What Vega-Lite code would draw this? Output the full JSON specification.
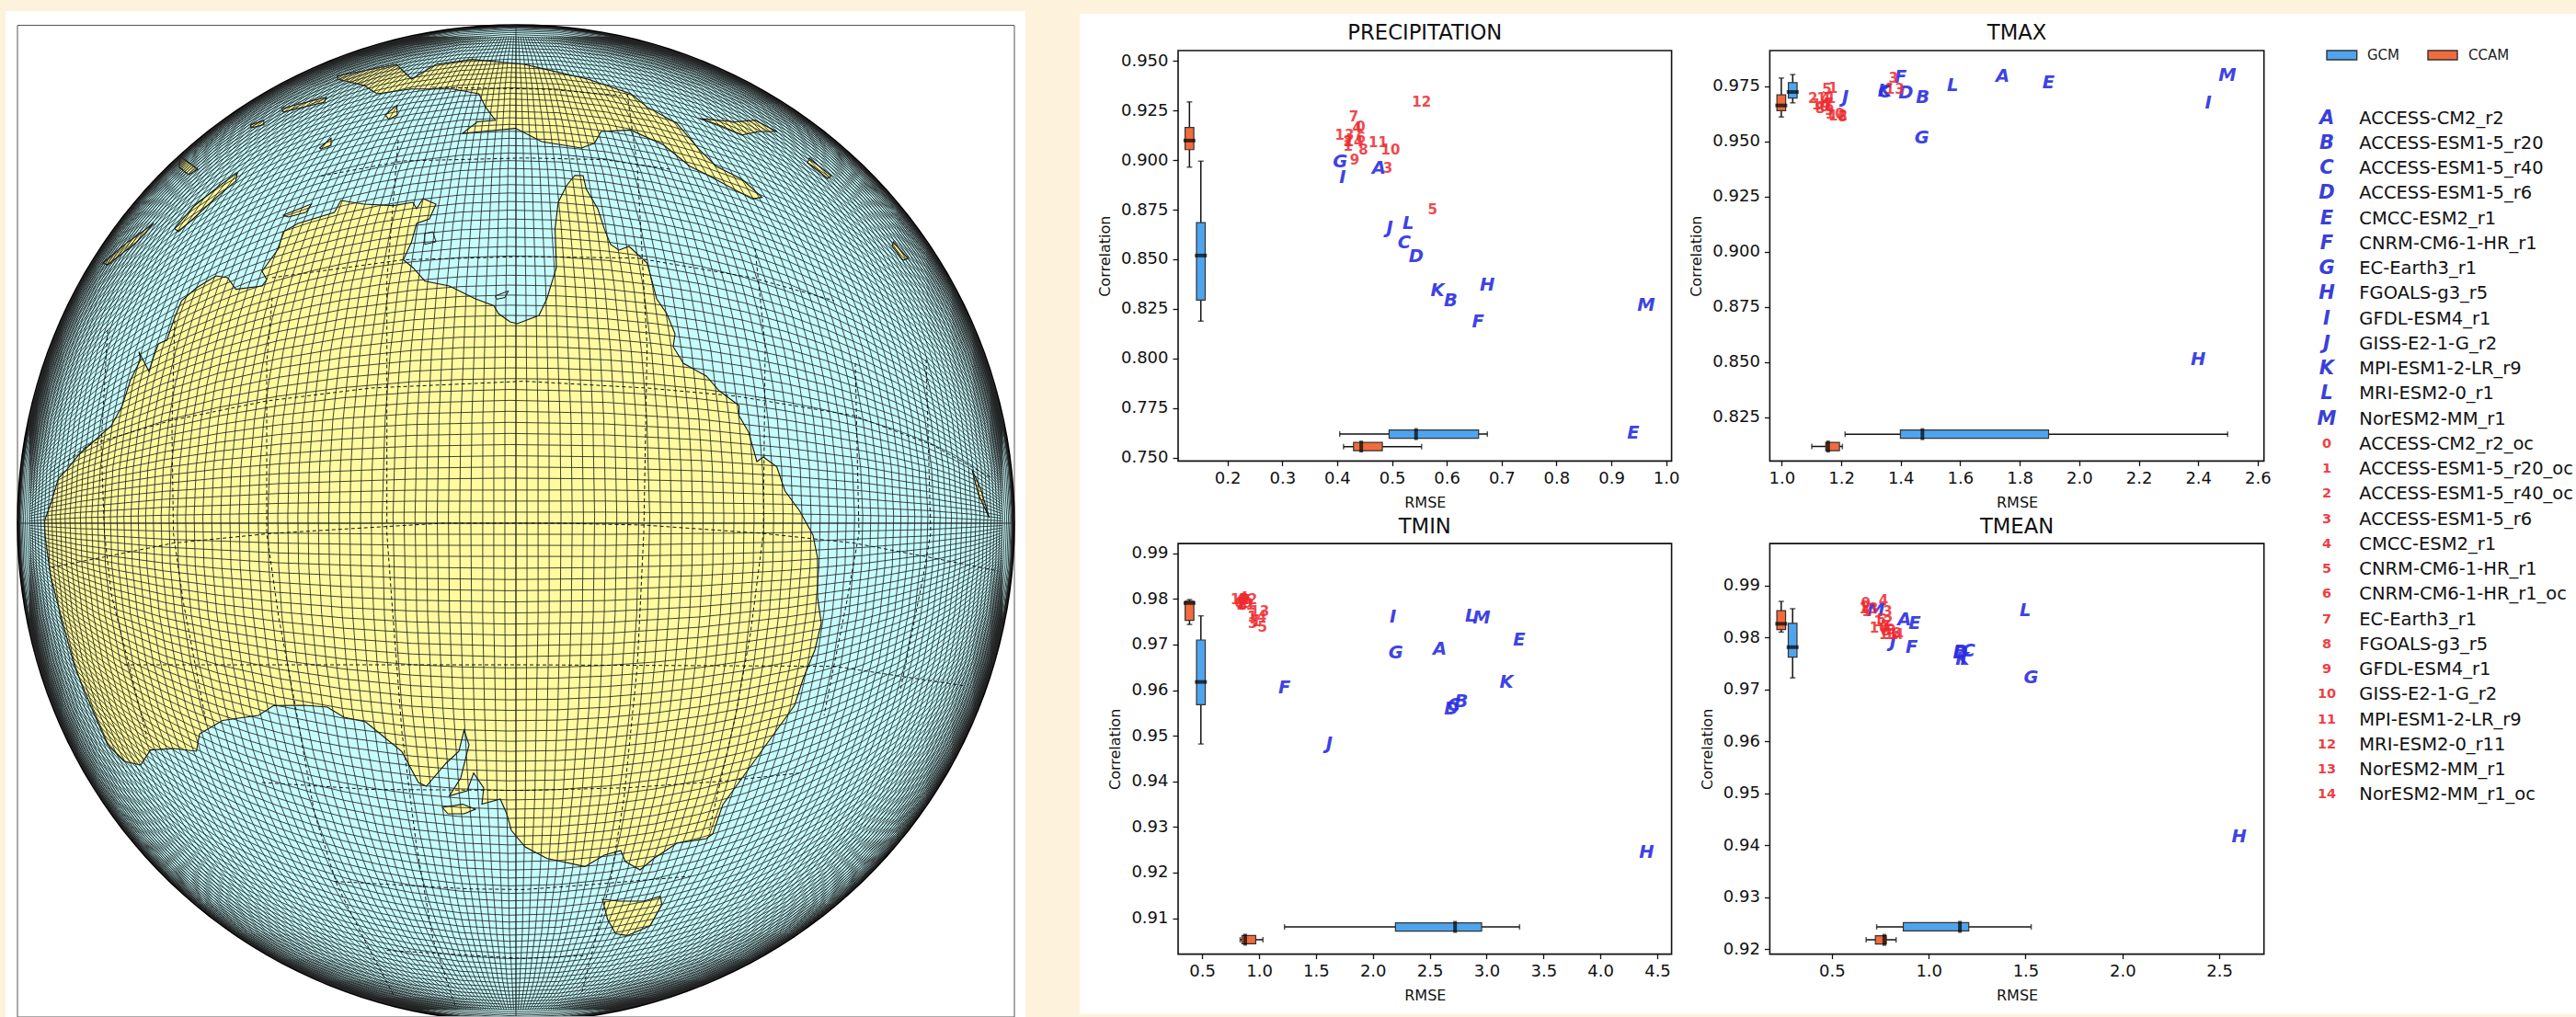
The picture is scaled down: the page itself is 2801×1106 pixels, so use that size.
{"$schema":"https://vega.github.io/schema/vega-lite/v6.json","width":2801,"height":1106,"padding":0,"autosize":{"type":"fit","contains":"padding"},"background":"#fdf2dc",
"config":{"font":"DejaVu Sans","view":{"stroke":null},"scale":{"continuousPadding":0},"axis":{"grid":false,"domain":false,"tickColor":"#111","tickSize":6,"tickWidth":1.3,"labelColor":"#111","titleColor":"#111","labelFontSize":18,"titleFontSize":16,"titleFontWeight":"normal","labelPadding":5,"titlePadding":9,"labelOverlap":false,"labelFlush":false}},
"datasets":{
"land":[
{"type":"Feature","geometry":{"type":"Polygon","coordinates":[[[48.6,566],[56,545],[63.6,520],[72.5,511],[87,493],[103,479],[121,463],[133,441],[142,413],[153,391],[151,382.5],[162,404],[167,388],[172.5,373.6],[181.4,370],[190,345],[197.5,327],[213.6,313],[235,300],[247.5,302],[256.4,314.6],[285,311],[290,304],[285,295],[303,270],[308,252],[324,243],[363.6,231],[370.7,218],[395.7,222],[428,223.6],[449,220],[453,227],[460,216],[474,222],[467,238],[453,243],[447.5,263],[438.6,282.5],[449,291],[462,305.7],[488.6,311],[517,325],[537,332.5],[542,341],[554.6,350],[562.5,352],[586,343],[594.6,325],[605,291],[603.6,248.6],[607,220],[616,202],[625,190.7],[634,191],[637.5,205.7],[650,227],[657,248.6],[664,266],[673,272],[684,268],[703.6,286],[709,305.7],[714,325],[725,341],[734,363],[732,377],[743,395],[768,409],[782,425],[803.6,441],[803.6,452],[814,470],[823,502],[830,497],[844.6,507.5],[853.6,534],[869.6,555.7],[884,582],[889,607],[889,649.6],[893,678],[886,707],[873,739],[864,767],[846,792],[825,821],[807,846],[786,875],[775,907],[768,912],[736,917],[711,933.5],[696,946],[680,937],[675,925],[657,930],[636,942.4],[594.6,933.5],[571,921],[556,903],[551,885],[544,869],[524,874.6],[526,857],[515,840.6],[508,860],[488.6,865.6],[501,846],[510,810],[504.6,794],[499,817],[485,830],[463.6,855],[455,851],[437,817.4],[417,801],[397.5,785],[374,780],[356,769],[331,767],[297.5,767.4],[281,778],[242,783.5],[217,798],[213.6,817],[188.6,814],[163.6,815.6],[153,832],[135,828],[117,810],[103,778],[81,724.6],[63.6,660],[54.6,624.6],[49,582],[48.6,566]]]}},
{"type":"Feature","geometry":{"type":"Polygon","coordinates":[[[481,878],[503,874.6],[517,880],[504.6,885],[487,885],[481,878]]]}},
{"type":"Feature","geometry":{"type":"Polygon","coordinates":[[[655,978],[673,980],[700,980],[718,974.6],[719.6,983.5],[707,1006.7],[682,1017.4],[669.6,1015.6],[660.7,1000],[655,978]]]}},
{"type":"Feature","geometry":{"type":"Polygon","coordinates":[[[367,82.5],[431,70],[447.5,86],[474,70],[513.6,64.6],[570,70],[585.7,73.6],[639,86],[686,102],[703.6,116.4],[735.7,134],[760.7,163],[778.6,180.7],[807,195],[828.6,214.6],[818,216.4],[771.4,191.4],[750,180.7],[721.4,157.5],[685.7,141.4],[653.6,143],[646.4,155.7],[632,161],[589,154],[560.7,139.6],[503,145],[519,132.5],[538.6,130.7],[528,116.4],[520.7,102],[492,96.8],[447.5,96.8],[410,102],[396,93],[367,86],[367,82.5]]]}},
{"type":"Feature","geometry":{"type":"Polygon","coordinates":[[[760.7,129],[800,132.5],[821.4,130.7],[844.6,143],[825,143],[807,146.8],[782,136],[760.7,129]]]}},
{"type":"Feature","geometry":{"type":"Polygon","coordinates":[[[308,234],[338.6,221.8],[333,230.7],[313.6,236],[308,234]]]}},
{"type":"Feature","geometry":{"type":"Polygon","coordinates":[[[306.4,118],[354.6,105.7],[353,111],[308,121.8],[306.4,118]]]}},
{"type":"Feature","geometry":{"type":"Polygon","coordinates":[[[272.5,136],[286.8,130.7],[287,135.5],[273,139],[272.5,136]]]}},
{"type":"Feature","geometry":{"type":"Polygon","coordinates":[[[347.5,161],[360,150.4],[360,158],[349,162],[347.5,161]]]}},
{"type":"Feature","geometry":{"type":"Polygon","coordinates":[[[190,248.6],[210,225],[238.6,202],[258,188],[256.4,196.8],[231.4,218],[210,238],[194,252],[190,248.6]]]}},
{"type":"Feature","geometry":{"type":"Polygon","coordinates":[[[111.8,286],[135,266.4],[167,243],[149,263],[117,288],[111.8,286]]]}},
{"type":"Feature","geometry":{"type":"Polygon","coordinates":[[[195.7,170],[215,184],[205,190],[195,182],[195.7,170]]]}},
{"type":"Feature","geometry":{"type":"Polygon","coordinates":[[[419,125],[431.5,114.6],[432,125],[423,130],[419,125]]]}},
{"type":"Feature","geometry":{"type":"Polygon","coordinates":[[[1057,511],[1066,530.7],[1075.7,563],[1064,538],[1057,511]]]}},
{"type":"Feature","geometry":{"type":"Polygon","coordinates":[[[880,172],[903.6,191.4],[900,194],[878,177],[880,172]]]}},
{"type":"Feature","geometry":{"type":"Polygon","coordinates":[[[971.4,263],[987.5,281],[982,283],[970,268],[971.4,263]]]}}
],
"lakes":[
{"type":"Feature","geometry":{"type":"Polygon","coordinates":[[[461.8,254],[470.7,252],[474,263],[461.8,265.7],[461.8,254]]]}},
{"type":"Feature","geometry":{"type":"Polygon","coordinates":[[[538.6,321.8],[552.9,316.4],[549,323.6],[540,325.4],[538.6,321.8]]]}}
],
"latlon":[{"type":"Feature","geometry":{"type":"MultiLineString","coordinates":[
[[433,152],[420.7,305],[420.7,580],[426,653],[437,796],[453,921],[470.7,1021],[495.7,1096]],
[[296,323.6],[290,395],[290,580],[303,671],[321,767],[342,885],[367,964],[403,1035],[428,1082]],
[[190,348.6],[187,466],[188.6,580],[199,653],[224,785]],
[[117,359],[110,484],[113.6,580],[121,646],[160,803]],
[[682,102],[693,181],[703.6,377],[700,580],[693,724.6],[678.6,867],[664,957],[632,1082]],
[[821,270],[832,377],[830,580],[816,689],[800,778],[771,903]],
[[930,395],[934,580],[921,653],[896,778]],
[[1007,391],[1012,580],[1003.6,628],[978.6,753]],
[[135,723],[367,723],[570,723],[907,724.6],[1050,746]],
[[56,513],[96,484],[185,457.5],[290,436],[403,422],[570,414.6],[703.6,422],[800,430.7],[928.6,452],[1014,484],[1078.6,520]],
[[56,617],[117,605],[188.6,590.6],[296,580],[481,569],[603.6,569],[700,571],[828.6,580],[928.6,590.6],[1014,606.7],[1086,621]],
[[285,851],[403,858.5],[570,859.6],[682,856.7],[786,849.6],[871,840.6]],
[[363.6,958.5],[510,966.7],[570,967.4],[643,962],[750,953]],
[[420.7,1033.5],[570,1042.4],[639,1039]],
[[295.7,302],[438.6,282.5],[570,279],[693,280.7],[818,302],[907,327]],
[[349,191.4],[438.6,175],[570,171.8],[657,173.6],[728.6,184]],
[[470,95],[596,97],[675,104]]
]}}],
"b1":[{"m":"GCM","d":"h","p":0.7618,"lo":0.4048,"q1":0.4948,"med":0.544,"q3":0.658,"hi":0.674},{"m":"CCAM","d":"h","p":0.7555,"lo":0.4117,"q1":0.43,"med":0.444,"q3":0.4825,"hi":0.5541},{"m":"CCAM","d":"v","p":0.1307,"lo":0.8965,"q1":0.9053,"med":0.9099,"q3":0.9165,"hi":0.9294},{"m":"GCM","d":"v","p":0.1515,"lo":0.8188,"q1":0.8294,"med":0.8519,"q3":0.8685,"hi":0.8995}],
"b2":[{"m":"GCM","d":"h","p":0.8174,"lo":1.213,"q1":1.399,"med":1.473,"q3":1.897,"hi":2.499},{"m":"CCAM","d":"h","p":0.8118,"lo":1.101,"q1":1.148,"med":1.156,"q3":1.194,"hi":1.204},{"m":"CCAM","d":"v","p":0.9986,"lo":0.961,"q1":0.9638,"med":0.9662,"q3":0.971,"hi":0.9786},{"m":"GCM","d":"v","p":1.037,"lo":0.9674,"q1":0.9696,"med":0.9723,"q3":0.9765,"hi":0.9802}],
"b3":[{"m":"GCM","d":"h","p":0.9081,"lo":1.2236,"q1":2.199,"med":2.723,"q3":2.956,"hi":3.29},{"m":"CCAM","d":"h","p":0.9053,"lo":0.834,"q1":0.85,"med":0.878,"q3":0.971,"hi":1.034},{"m":"CCAM","d":"v","p":0.3887,"lo":0.9744,"q1":0.9753,"med":0.9791,"q3":0.9795,"hi":0.97985},{"m":"GCM","d":"v","p":0.4889,"lo":0.9482,"q1":0.9568,"med":0.9618,"q3":0.971,"hi":0.9763}],
"b4":[{"m":"GCM","d":"h","p":0.9243,"lo":0.731,"q1":0.8686,"med":1.161,"q3":1.2067,"hi":1.529},{"m":"CCAM","d":"h","p":0.9218,"lo":0.6767,"q1":0.7246,"med":0.7705,"q3":0.781,"hi":0.8315},{"m":"CCAM","d":"v","p":0.2383,"lo":0.981,"q1":0.9815,"med":0.9826,"q3":0.9851,"hi":0.9869},{"m":"GCM","d":"v","p":0.2972,"lo":0.9722,"q1":0.9762,"med":0.9781,"q3":0.9827,"hi":0.9855}],
"g1":[{"c":"A","x":0.476,"y":0.896},{"c":"B","x":0.607,"y":0.8292},{"c":"C","x":0.5226,"y":0.8582},{"c":"D","x":0.544,"y":0.8516},{"c":"E","x":0.94,"y":0.7624},{"c":"F","x":0.657,"y":0.8184},{"c":"G","x":0.4055,"y":0.8991},{"c":"H","x":0.674,"y":0.8368},{"c":"I","x":0.41,"y":0.8913},{"c":"J","x":0.496,"y":0.8657},{"c":"K","x":0.583,"y":0.8342},{"c":"L","x":0.5295,"y":0.8681},{"c":"M","x":0.9636,"y":0.8266}],
"r1":[{"c":"0","x":0.443,"y":0.917},{"c":"1","x":0.42,"y":0.907},{"c":"2","x":0.42,"y":0.9095},{"c":"3","x":0.4925,"y":0.896},{"c":"4","x":0.4365,"y":0.9165},{"c":"5","x":0.574,"y":0.8751},{"c":"6","x":0.4435,"y":0.911},{"c":"7","x":0.4305,"y":0.9218},{"c":"8","x":0.448,"y":0.9051},{"c":"9","x":0.432,"y":0.9001},{"c":"10","x":0.4975,"y":0.9051},{"c":"11","x":0.4747,"y":0.9089},{"c":"12","x":0.554,"y":0.9291},{"c":"13","x":0.4135,"y":0.9128},{"c":"14","x":0.4305,"y":0.9095}],
"g2":[{"c":"A","x":1.7425,"y":0.9795},{"c":"B","x":1.474,"y":0.97},{"c":"C","x":1.3464,"y":0.9723},{"c":"D","x":1.417,"y":0.9717},{"c":"E","x":1.897,"y":0.9765},{"c":"F","x":1.4,"y":0.979},{"c":"G","x":1.471,"y":0.9515},{"c":"H","x":2.4,"y":0.8512},{"c":"I","x":2.434,"y":0.9674},{"c":"J","x":1.214,"y":0.9698},{"c":"K","x":1.346,"y":0.9726},{"c":"L","x":1.575,"y":0.9753},{"c":"M","x":2.498,"y":0.98}],
"r2":[{"c":"0","x":1.143,"y":0.9656},{"c":"1","x":1.173,"y":0.9741},{"c":"2","x":1.105,"y":0.9694},{"c":"3","x":1.375,"y":0.9787},{"c":"4","x":1.148,"y":0.9694},{"c":"5","x":1.152,"y":0.9735},{"c":"6","x":1.204,"y":0.9609},{"c":"7","x":1.158,"y":0.9671},{"c":"8","x":1.129,"y":0.9649},{"c":"9","x":1.16,"y":0.9641},{"c":"10","x":1.179,"y":0.9622},{"c":"11","x":1.15,"y":0.9694},{"c":"12","x":1.189,"y":0.9616},{"c":"13","x":1.38,"y":0.9735},{"c":"14","x":1.133,"y":0.9664}],
"g3":[{"c":"A","x":2.589,"y":0.96905},{"c":"B","x":2.778,"y":0.95754},{"c":"C","x":2.712,"y":0.9567},{"c":"D","x":2.693,"y":0.9558},{"c":"E","x":3.287,"y":0.9709},{"c":"F","x":1.2236,"y":0.9606},{"c":"G","x":2.203,"y":0.9682},{"c":"H","x":4.407,"y":0.9244},{"c":"I","x":2.177,"y":0.9761},{"c":"J","x":1.617,"y":0.9482},{"c":"K","x":3.175,"y":0.9618},{"c":"L","x":2.86,"y":0.9763},{"c":"M","x":2.956,"y":0.9758}],
"r3":[{"c":"0","x":0.8525,"y":0.9797},{"c":"1","x":0.975,"y":0.9751},{"c":"2","x":0.845,"y":0.9791},{"c":"3","x":0.945,"y":0.9746},{"c":"4","x":0.864,"y":0.9802},{"c":"5","x":1.03,"y":0.9738},{"c":"6","x":0.8265,"y":0.979},{"c":"7","x":0.882,"y":0.9796},{"c":"8","x":0.856,"y":0.9786},{"c":"9","x":0.9,"y":0.979},{"c":"10","x":0.834,"y":0.9798},{"c":"11","x":0.882,"y":0.9786},{"c":"12","x":0.9,"y":0.9798},{"c":"13","x":1.005,"y":0.9773},{"c":"14","x":0.982,"y":0.9761}],
"g4":[{"c":"A","x":0.875,"y":0.98335},{"c":"B","x":1.163,"y":0.9771},{"c":"C","x":1.2067,"y":0.9774},{"c":"D","x":1.163,"y":0.977},{"c":"E","x":0.9275,"y":0.9826},{"c":"F","x":0.912,"y":0.9781},{"c":"G","x":1.529,"y":0.9722},{"c":"H","x":2.6025,"y":0.9416},{"c":"I","x":1.18,"y":0.9758},{"c":"J","x":0.816,"y":0.9791},{"c":"K","x":1.174,"y":0.9758},{"c":"L","x":1.499,"y":0.9852},{"c":"M","x":0.727,"y":0.9852}],
"r4":[{"c":"0","x":0.6745,"y":0.9865},{"c":"1","x":0.679,"y":0.9849},{"c":"2","x":0.6745,"y":0.9859},{"c":"3","x":0.788,"y":0.9849},{"c":"4","x":0.766,"y":0.987},{"c":"5","x":0.755,"y":0.9834},{"c":"6","x":0.8315,"y":0.9808},{"c":"7","x":0.777,"y":0.9822},{"c":"8","x":0.777,"y":0.9812},{"c":"9","x":0.805,"y":0.9815},{"c":"10","x":0.744,"y":0.9818},{"c":"11","x":0.792,"y":0.9805},{"c":"12","x":0.766,"y":0.983},{"c":"13","x":0.69,"y":0.9855},{"c":"14","x":0.8206,"y":0.9805}],
"key":[{"c":"A","n":"ACCESS-CM2_r2","r":0,"g":"G"},{"c":"B","n":"ACCESS-ESM1-5_r20","r":1,"g":"G"},{"c":"C","n":"ACCESS-ESM1-5_r40","r":2,"g":"G"},{"c":"D","n":"ACCESS-ESM1-5_r6","r":3,"g":"G"},{"c":"E","n":"CMCC-ESM2_r1","r":4,"g":"G"},{"c":"F","n":"CNRM-CM6-1-HR_r1","r":5,"g":"G"},{"c":"G","n":"EC-Earth3_r1","r":6,"g":"G"},{"c":"H","n":"FGOALS-g3_r5","r":7,"g":"G"},{"c":"I","n":"GFDL-ESM4_r1","r":8,"g":"G"},{"c":"J","n":"GISS-E2-1-G_r2","r":9,"g":"G"},{"c":"K","n":"MPI-ESM1-2-LR_r9","r":10,"g":"G"},{"c":"L","n":"MRI-ESM2-0_r1","r":11,"g":"G"},{"c":"M","n":"NorESM2-MM_r1","r":12,"g":"G"},{"c":"0","n":"ACCESS-CM2_r2_oc","r":13,"g":"C"},{"c":"1","n":"ACCESS-ESM1-5_r20_oc","r":14,"g":"C"},{"c":"2","n":"ACCESS-ESM1-5_r40_oc","r":15,"g":"C"},{"c":"3","n":"ACCESS-ESM1-5_r6","r":16,"g":"C"},{"c":"4","n":"CMCC-ESM2_r1","r":17,"g":"C"},{"c":"5","n":"CNRM-CM6-1-HR_r1","r":18,"g":"C"},{"c":"6","n":"CNRM-CM6-1-HR_r1_oc","r":19,"g":"C"},{"c":"7","n":"EC-Earth3_r1","r":20,"g":"C"},{"c":"8","n":"FGOALS-g3_r5","r":21,"g":"C"},{"c":"9","n":"GFDL-ESM4_r1","r":22,"g":"C"},{"c":"10","n":"GISS-E2-1-G_r2","r":23,"g":"C"},{"c":"11","n":"MPI-ESM1-2-LR_r9","r":24,"g":"C"},{"c":"12","n":"MRI-ESM2-0_r11","r":25,"g":"C"},{"c":"13","n":"NorESM2-MM_r1","r":26,"g":"C"},{"c":"14","n":"NorESM2-MM_r1_oc","r":27,"g":"C"}]
},
"resolve":{"scale":{"x":"independent","y":"independent"},"axis":{"x":"independent","y":"independent"}},
"layer":[
{"data":{"values":[{"a":1}]},
 "encoding":{"x":{"type":"quantitative","scale":{"domain":[0,2801],"range":[0,2801]},"axis":null},"y":{"type":"quantitative","scale":{"domain":[0,1106],"range":[0,1106]},"axis":null}},
 "layer":[
 {"mark":{"type":"rect","fill":"white"},"encoding":{"x":{"datum":6},"x2":{"datum":1115},"y":{"datum":12},"y2":{"datum":1106}}},
 {"mark":{"type":"rect","fill":"white"},"encoding":{"x":{"datum":1174},"x2":{"datum":2801},"y":{"datum":15},"y2":{"datum":1103}}},
 {"mark":{"type":"rect","fill":"white","stroke":"#555","strokeWidth":1},"encoding":{"x":{"datum":19},"x2":{"datum":1103},"y":{"datum":27.5},"y2":{"datum":1106}}}
 ]},
{"data":{"sphere":true},"mark":{"type":"geoshape","fill":"#c6fdff","stroke":"#000","strokeWidth":3.5,"clip":true},"projection":{"type":"orthographic","scale":541,"translate":[561,569]}},
{"data":{"name":"land"},"mark":{"type":"geoshape","fill":"#fffb9e","stroke":"#111","strokeWidth":1.1},"projection":{"type":"identity","scale":1,"translate":[0,0]}},
{"data":{"name":"lakes"},"mark":{"type":"geoshape","fill":"#c6fdff","stroke":"#111","strokeWidth":1},"projection":{"type":"identity","scale":1,"translate":[0,0]}},
{"data":{"graticule":{"extentMinor":[[-180,-78],[180,78]],"extentMajor":[[-180,-78],[180,78]],"stepMinor":[1.3,180],"stepMajor":[90,360],"precision":3}},"mark":{"type":"geoshape","filled":false,"stroke":"#222","strokeWidth":0.85,"clip":true},"projection":{"type":"orthographic","scale":541,"translate":[561,569]}},
{"data":{"graticule":{"extentMinor":[[-180,-78],[180,78]],"extentMajor":[[-180,-78],[180,78]],"stepMinor":[1.3,180],"stepMajor":[90,360],"precision":3}},"mark":{"type":"geoshape","filled":false,"stroke":"#222","strokeWidth":0.85,"clip":true},"projection":{"type":"orthographic","scale":541,"translate":[561,569],"rotate":[0,0,90]}},
{"data":{"name":"latlon"},"mark":{"type":"geoshape","filled":false,"stroke":"#111","strokeWidth":1,"strokeDash":[4,3],"clip":true},"projection":{"type":"identity","scale":1,"translate":[0,0]}},

{"data":{"name":"b1"},
 "encoding":{"x":{"type":"quantitative","scale":{"domain":[0.11,1.01],"range":[1281,1817.6],"nice":false,"zero":false},"axis":{"zindex":1,"title":"RMSE","orient":"bottom","offset":-604.6,"values":[0.2,0.3,0.4,0.5,0.6,0.7,0.8,0.9,1.0],"format":".1f"}},
 "y":{"type":"quantitative","scale":{"domain":[0.7482,0.9553],"range":[501.4,55],"nice":false,"zero":false},"axis":{"zindex":1,"title":"Correlation","orient":"left","offset":-1281,"values":[0.75,0.775,0.8,0.825,0.85,0.875,0.9,0.925,0.95],"format":".3f"}}},
 "layer":[
 {"data":{"values":[{"t":"PRECIPITATION"}]},"mark":{"type":"rect","fill":null,"stroke":"#111","strokeWidth":1.6},"encoding":{"x":{"datum":0.11},"x2":{"datum":1.01},"y":{"datum":0.7482},"y2":{"datum":0.9553}}},
 {"data":{"values":[{"t":"PRECIPITATION"}]},"mark":{"type":"text","fontSize":22.7,"dy":-19,"color":"#111"},"encoding":{"text":{"field":"t"},"x":{"datum":0.56},"y":{"datum":0.9553}}},
 {"transform":[{"filter":"datum.d=='h'"}],"mark":{"type":"rule","color":"#111","strokeWidth":1.5},"encoding":{"x":{"field":"lo"},"x2":{"field":"hi"},"y":{"field":"p"}}},
 {"transform":[{"filter":"datum.d=='h'"}],"mark":{"type":"bar","orient":"horizontal","size":9,"stroke":"#333","strokeWidth":1.2},"encoding":{"x":{"field":"q1"},"x2":{"field":"q3"},"y":{"field":"p"},"color":{"field":"m","type":"nominal","scale":{"domain":["GCM","CCAM"],"range":["#4ea5ee","#f26b3c"]},"legend":null}}},
 {"transform":[{"filter":"datum.d=='h'"},{"fold":["lo","hi"]}],"mark":{"type":"tick","orient":"vertical","size":6,"thickness":1.5,"color":"#111"},"encoding":{"x":{"field":"value"},"y":{"field":"p"}}},
 {"transform":[{"filter":"datum.d=='h'"}],"mark":{"type":"tick","orient":"vertical","size":13,"thickness":4,"color":"#000"},"encoding":{"x":{"field":"med"},"y":{"field":"p"}}},
 {"transform":[{"filter":"datum.d=='v'"}],"mark":{"type":"rule","color":"#111","strokeWidth":1.5},"encoding":{"y":{"field":"lo"},"y2":{"field":"hi"},"x":{"field":"p"}}},
 {"transform":[{"filter":"datum.d=='v'"}],"mark":{"type":"bar","orient":"vertical","size":9.5,"stroke":"#333","strokeWidth":1.2},"encoding":{"y":{"field":"q1"},"y2":{"field":"q3"},"x":{"field":"p"},"color":{"field":"m","type":"nominal","scale":{"domain":["GCM","CCAM"],"range":["#4ea5ee","#f26b3c"]},"legend":null}}},
 {"transform":[{"filter":"datum.d=='v'"},{"fold":["lo","hi"]}],"mark":{"type":"tick","orient":"horizontal","size":6,"thickness":1.5,"color":"#111"},"encoding":{"y":{"field":"value"},"x":{"field":"p"}}},
 {"transform":[{"filter":"datum.d=='v'"}],"mark":{"type":"tick","orient":"horizontal","size":13,"thickness":4,"color":"#000"},"encoding":{"y":{"field":"med"},"x":{"field":"p"}}},
 {"data":{"name":"g1"},"mark":{"type":"text","fontSize":19.5,"fontWeight":"bold","fontStyle":"italic","color":"#2a2fe0","opacity":0.9},"encoding":{"text":{"field":"c"},"x":{"field":"x"},"y":{"field":"y"}}},
 {"data":{"name":"r1"},"mark":{"type":"text","fontSize":15,"fontWeight":"bold","color":"#ee2a2f","opacity":0.85},"encoding":{"text":{"field":"c"},"x":{"field":"x"},"y":{"field":"y"}}}
 ]},

{"data":{"name":"b2"},
 "encoding":{"x":{"type":"quantitative","scale":{"domain":[0.96,2.621],"range":[1924.4,2461.7],"nice":false,"zero":false},"axis":{"zindex":1,"title":"RMSE","orient":"bottom","offset":-604.6,"values":[1.0,1.2,1.4,1.6,1.8,2.0,2.2,2.4,2.6],"format":".1f"}},
 "y":{"type":"quantitative","scale":{"domain":[0.80523,0.99105],"range":[501.4,55],"nice":false,"zero":false},"axis":{"zindex":1,"title":"Correlation","orient":"left","offset":-1924.4,"values":[0.825,0.85,0.875,0.9,0.925,0.95,0.975],"format":".3f"}}},
 "layer":[
 {"data":{"values":[{"t":"TMAX"}]},"mark":{"type":"rect","fill":null,"stroke":"#111","strokeWidth":1.6},"encoding":{"x":{"datum":0.96},"x2":{"datum":2.621},"y":{"datum":0.80523},"y2":{"datum":0.99105}}},
 {"data":{"values":[{"t":"TMAX"}]},"mark":{"type":"text","fontSize":22.7,"dy":-19,"color":"#111"},"encoding":{"text":{"field":"t"},"x":{"datum":1.7905},"y":{"datum":0.99105}}},
 {"transform":[{"filter":"datum.d=='h'"}],"mark":{"type":"rule","color":"#111","strokeWidth":1.5},"encoding":{"x":{"field":"lo"},"x2":{"field":"hi"},"y":{"field":"p"}}},
 {"transform":[{"filter":"datum.d=='h'"}],"mark":{"type":"bar","orient":"horizontal","size":9,"stroke":"#333","strokeWidth":1.2},"encoding":{"x":{"field":"q1"},"x2":{"field":"q3"},"y":{"field":"p"},"color":{"field":"m","type":"nominal","scale":{"domain":["GCM","CCAM"],"range":["#4ea5ee","#f26b3c"]},"legend":null}}},
 {"transform":[{"filter":"datum.d=='h'"},{"fold":["lo","hi"]}],"mark":{"type":"tick","orient":"vertical","size":6,"thickness":1.5,"color":"#111"},"encoding":{"x":{"field":"value"},"y":{"field":"p"}}},
 {"transform":[{"filter":"datum.d=='h'"}],"mark":{"type":"tick","orient":"vertical","size":13,"thickness":4,"color":"#000"},"encoding":{"x":{"field":"med"},"y":{"field":"p"}}},
 {"transform":[{"filter":"datum.d=='v'"}],"mark":{"type":"rule","color":"#111","strokeWidth":1.5},"encoding":{"y":{"field":"lo"},"y2":{"field":"hi"},"x":{"field":"p"}}},
 {"transform":[{"filter":"datum.d=='v'"}],"mark":{"type":"bar","orient":"vertical","size":9.5,"stroke":"#333","strokeWidth":1.2},"encoding":{"y":{"field":"q1"},"y2":{"field":"q3"},"x":{"field":"p"},"color":{"field":"m","type":"nominal","scale":{"domain":["GCM","CCAM"],"range":["#4ea5ee","#f26b3c"]},"legend":null}}},
 {"transform":[{"filter":"datum.d=='v'"},{"fold":["lo","hi"]}],"mark":{"type":"tick","orient":"horizontal","size":6,"thickness":1.5,"color":"#111"},"encoding":{"y":{"field":"value"},"x":{"field":"p"}}},
 {"transform":[{"filter":"datum.d=='v'"}],"mark":{"type":"tick","orient":"horizontal","size":13,"thickness":4,"color":"#000"},"encoding":{"y":{"field":"med"},"x":{"field":"p"}}},
 {"data":{"name":"g2"},"mark":{"type":"text","fontSize":19.5,"fontWeight":"bold","fontStyle":"italic","color":"#2a2fe0","opacity":0.9},"encoding":{"text":{"field":"c"},"x":{"field":"x"},"y":{"field":"y"}}},
 {"data":{"name":"r2"},"mark":{"type":"text","fontSize":15,"fontWeight":"bold","color":"#ee2a2f","opacity":0.85},"encoding":{"text":{"field":"c"},"x":{"field":"x"},"y":{"field":"y"}}}
 ]},

{"data":{"name":"b3"},
 "encoding":{"x":{"type":"quantitative","scale":{"domain":[0.2885,4.626],"range":[1281,1817.6],"nice":false,"zero":false},"axis":{"zindex":1,"title":"RMSE","orient":"bottom","offset":-68.4,"values":[0.5,1.0,1.5,2.0,2.5,3.0,3.5,4.0,4.5],"format":".1f"}},
 "y":{"type":"quantitative","scale":{"domain":[0.90214,0.99214],"range":[1037.6,591.1],"nice":false,"zero":false},"axis":{"zindex":1,"title":"Correlation","orient":"left","offset":-1281,"values":[0.91,0.92,0.93,0.94,0.95,0.96,0.97,0.98,0.99],"format":".2f"}}},
 "layer":[
 {"data":{"values":[{"t":"TMIN"}]},"mark":{"type":"rect","fill":null,"stroke":"#111","strokeWidth":1.6},"encoding":{"x":{"datum":0.2885},"x2":{"datum":4.626},"y":{"datum":0.90214},"y2":{"datum":0.99214}}},
 {"data":{"values":[{"t":"TMIN"}]},"mark":{"type":"text","fontSize":22.7,"dy":-18,"color":"#111"},"encoding":{"text":{"field":"t"},"x":{"datum":2.457},"y":{"datum":0.99214}}},
 {"transform":[{"filter":"datum.d=='h'"}],"mark":{"type":"rule","color":"#111","strokeWidth":1.5},"encoding":{"x":{"field":"lo"},"x2":{"field":"hi"},"y":{"field":"p"}}},
 {"transform":[{"filter":"datum.d=='h'"}],"mark":{"type":"bar","orient":"horizontal","size":9,"stroke":"#333","strokeWidth":1.2},"encoding":{"x":{"field":"q1"},"x2":{"field":"q3"},"y":{"field":"p"},"color":{"field":"m","type":"nominal","scale":{"domain":["GCM","CCAM"],"range":["#4ea5ee","#f26b3c"]},"legend":null}}},
 {"transform":[{"filter":"datum.d=='h'"},{"fold":["lo","hi"]}],"mark":{"type":"tick","orient":"vertical","size":6,"thickness":1.5,"color":"#111"},"encoding":{"x":{"field":"value"},"y":{"field":"p"}}},
 {"transform":[{"filter":"datum.d=='h'"}],"mark":{"type":"tick","orient":"vertical","size":13,"thickness":4,"color":"#000"},"encoding":{"x":{"field":"med"},"y":{"field":"p"}}},
 {"transform":[{"filter":"datum.d=='v'"}],"mark":{"type":"rule","color":"#111","strokeWidth":1.5},"encoding":{"y":{"field":"lo"},"y2":{"field":"hi"},"x":{"field":"p"}}},
 {"transform":[{"filter":"datum.d=='v'"}],"mark":{"type":"bar","orient":"vertical","size":9.5,"stroke":"#333","strokeWidth":1.2},"encoding":{"y":{"field":"q1"},"y2":{"field":"q3"},"x":{"field":"p"},"color":{"field":"m","type":"nominal","scale":{"domain":["GCM","CCAM"],"range":["#4ea5ee","#f26b3c"]},"legend":null}}},
 {"transform":[{"filter":"datum.d=='v'"},{"fold":["lo","hi"]}],"mark":{"type":"tick","orient":"horizontal","size":6,"thickness":1.5,"color":"#111"},"encoding":{"y":{"field":"value"},"x":{"field":"p"}}},
 {"transform":[{"filter":"datum.d=='v'"}],"mark":{"type":"tick","orient":"horizontal","size":13,"thickness":4,"color":"#000"},"encoding":{"y":{"field":"med"},"x":{"field":"p"}}},
 {"data":{"name":"g3"},"mark":{"type":"text","fontSize":19.5,"fontWeight":"bold","fontStyle":"italic","color":"#2a2fe0","opacity":0.9},"encoding":{"text":{"field":"c"},"x":{"field":"x"},"y":{"field":"y"}}},
 {"data":{"name":"r3"},"mark":{"type":"text","fontSize":15,"fontWeight":"bold","color":"#ee2a2f","opacity":0.85},"encoding":{"text":{"field":"c"},"x":{"field":"x"},"y":{"field":"y"}}}
 ]},

{"data":{"name":"b4"},
 "encoding":{"x":{"type":"quantitative","scale":{"domain":[0.1794,2.731],"range":[1924.4,2461.7],"nice":false,"zero":false},"axis":{"zindex":1,"title":"RMSE","orient":"bottom","offset":-68.4,"values":[0.5,1.0,1.5,2.0,2.5],"format":".1f"}},
 "y":{"type":"quantitative","scale":{"domain":[0.91906,0.99803],"range":[1037.6,591.1],"nice":false,"zero":false},"axis":{"zindex":1,"title":"Correlation","orient":"left","offset":-1924.4,"values":[0.92,0.93,0.94,0.95,0.96,0.97,0.98,0.99],"format":".2f"}}},
 "layer":[
 {"data":{"values":[{"t":"TMEAN"}]},"mark":{"type":"rect","fill":null,"stroke":"#111","strokeWidth":1.6},"encoding":{"x":{"datum":0.1794},"x2":{"datum":2.731},"y":{"datum":0.91906},"y2":{"datum":0.99803}}},
 {"data":{"values":[{"t":"TMEAN"}]},"mark":{"type":"text","fontSize":22.7,"dy":-18,"color":"#111"},"encoding":{"text":{"field":"t"},"x":{"datum":1.455},"y":{"datum":0.99803}}},
 {"transform":[{"filter":"datum.d=='h'"}],"mark":{"type":"rule","color":"#111","strokeWidth":1.5},"encoding":{"x":{"field":"lo"},"x2":{"field":"hi"},"y":{"field":"p"}}},
 {"transform":[{"filter":"datum.d=='h'"}],"mark":{"type":"bar","orient":"horizontal","size":9,"stroke":"#333","strokeWidth":1.2},"encoding":{"x":{"field":"q1"},"x2":{"field":"q3"},"y":{"field":"p"},"color":{"field":"m","type":"nominal","scale":{"domain":["GCM","CCAM"],"range":["#4ea5ee","#f26b3c"]},"legend":null}}},
 {"transform":[{"filter":"datum.d=='h'"},{"fold":["lo","hi"]}],"mark":{"type":"tick","orient":"vertical","size":6,"thickness":1.5,"color":"#111"},"encoding":{"x":{"field":"value"},"y":{"field":"p"}}},
 {"transform":[{"filter":"datum.d=='h'"}],"mark":{"type":"tick","orient":"vertical","size":13,"thickness":4,"color":"#000"},"encoding":{"x":{"field":"med"},"y":{"field":"p"}}},
 {"transform":[{"filter":"datum.d=='v'"}],"mark":{"type":"rule","color":"#111","strokeWidth":1.5},"encoding":{"y":{"field":"lo"},"y2":{"field":"hi"},"x":{"field":"p"}}},
 {"transform":[{"filter":"datum.d=='v'"}],"mark":{"type":"bar","orient":"vertical","size":9.5,"stroke":"#333","strokeWidth":1.2},"encoding":{"y":{"field":"q1"},"y2":{"field":"q3"},"x":{"field":"p"},"color":{"field":"m","type":"nominal","scale":{"domain":["GCM","CCAM"],"range":["#4ea5ee","#f26b3c"]},"legend":null}}},
 {"transform":[{"filter":"datum.d=='v'"},{"fold":["lo","hi"]}],"mark":{"type":"tick","orient":"horizontal","size":6,"thickness":1.5,"color":"#111"},"encoding":{"y":{"field":"value"},"x":{"field":"p"}}},
 {"transform":[{"filter":"datum.d=='v'"}],"mark":{"type":"tick","orient":"horizontal","size":13,"thickness":4,"color":"#000"},"encoding":{"y":{"field":"med"},"x":{"field":"p"}}},
 {"data":{"name":"g4"},"mark":{"type":"text","fontSize":19.5,"fontWeight":"bold","fontStyle":"italic","color":"#2a2fe0","opacity":0.9},"encoding":{"text":{"field":"c"},"x":{"field":"x"},"y":{"field":"y"}}},
 {"data":{"name":"r4"},"mark":{"type":"text","fontSize":15,"fontWeight":"bold","color":"#ee2a2f","opacity":0.85},"encoding":{"text":{"field":"c"},"x":{"field":"x"},"y":{"field":"y"}}}
 ]},

{"data":{"values":[{"m":"GCM"}]},
 "encoding":{"x":{"type":"quantitative","scale":{"domain":[0,142],"range":[2530,2672],"nice":false,"zero":false},"axis":null},"y":{"type":"quantitative","scale":{"domain":[0,1],"range":[55,65],"nice":false,"zero":false},"axis":null}},
 "layer":[
 {"mark":{"type":"rect","fill":"#4ea5ee","stroke":"#333","strokeWidth":1.4},"encoding":{"x":{"datum":0},"x2":{"datum":32.7},"y":{"datum":0},"y2":{"datum":1}}},
 {"mark":{"type":"rect","fill":"#f26b3c","stroke":"#333","strokeWidth":1.4},"encoding":{"x":{"datum":110},"x2":{"datum":142},"y":{"datum":0},"y2":{"datum":1}}},
 {"mark":{"type":"text","fontSize":15,"align":"left","color":"#222"},"encoding":{"text":{"value":"GCM"},"x":{"datum":44},"y":{"datum":0.5}}},
 {"mark":{"type":"text","fontSize":15,"align":"left","color":"#222"},"encoding":{"text":{"value":"CCAM"},"x":{"datum":154},"y":{"datum":0.5}}}
 ]},

{"data":{"name":"key"},
 "encoding":{"x":{"type":"quantitative","scale":{"domain":[0,1],"range":[2530,2565.3],"nice":false,"zero":false},"axis":null},"y":{"field":"r","type":"quantitative","scale":{"domain":[0,27],"range":[128.7,864.3],"nice":false,"zero":false},"axis":null}},
 "layer":[
 {"transform":[{"filter":"datum.g=='G'"}],"mark":{"type":"text","fontSize":21,"fontWeight":"bold","fontStyle":"italic","color":"#3a40d8"},"encoding":{"text":{"field":"c"},"x":{"datum":0}}},
 {"transform":[{"filter":"datum.g=='C'"}],"mark":{"type":"text","fontSize":14.5,"fontWeight":"bold","color":"#ee3f45"},"encoding":{"text":{"field":"c"},"x":{"datum":0}}},
 {"mark":{"type":"text","fontSize":19.5,"align":"left","color":"#111"},"encoding":{"text":{"field":"n"},"x":{"datum":1}}}
 ]}
]}
